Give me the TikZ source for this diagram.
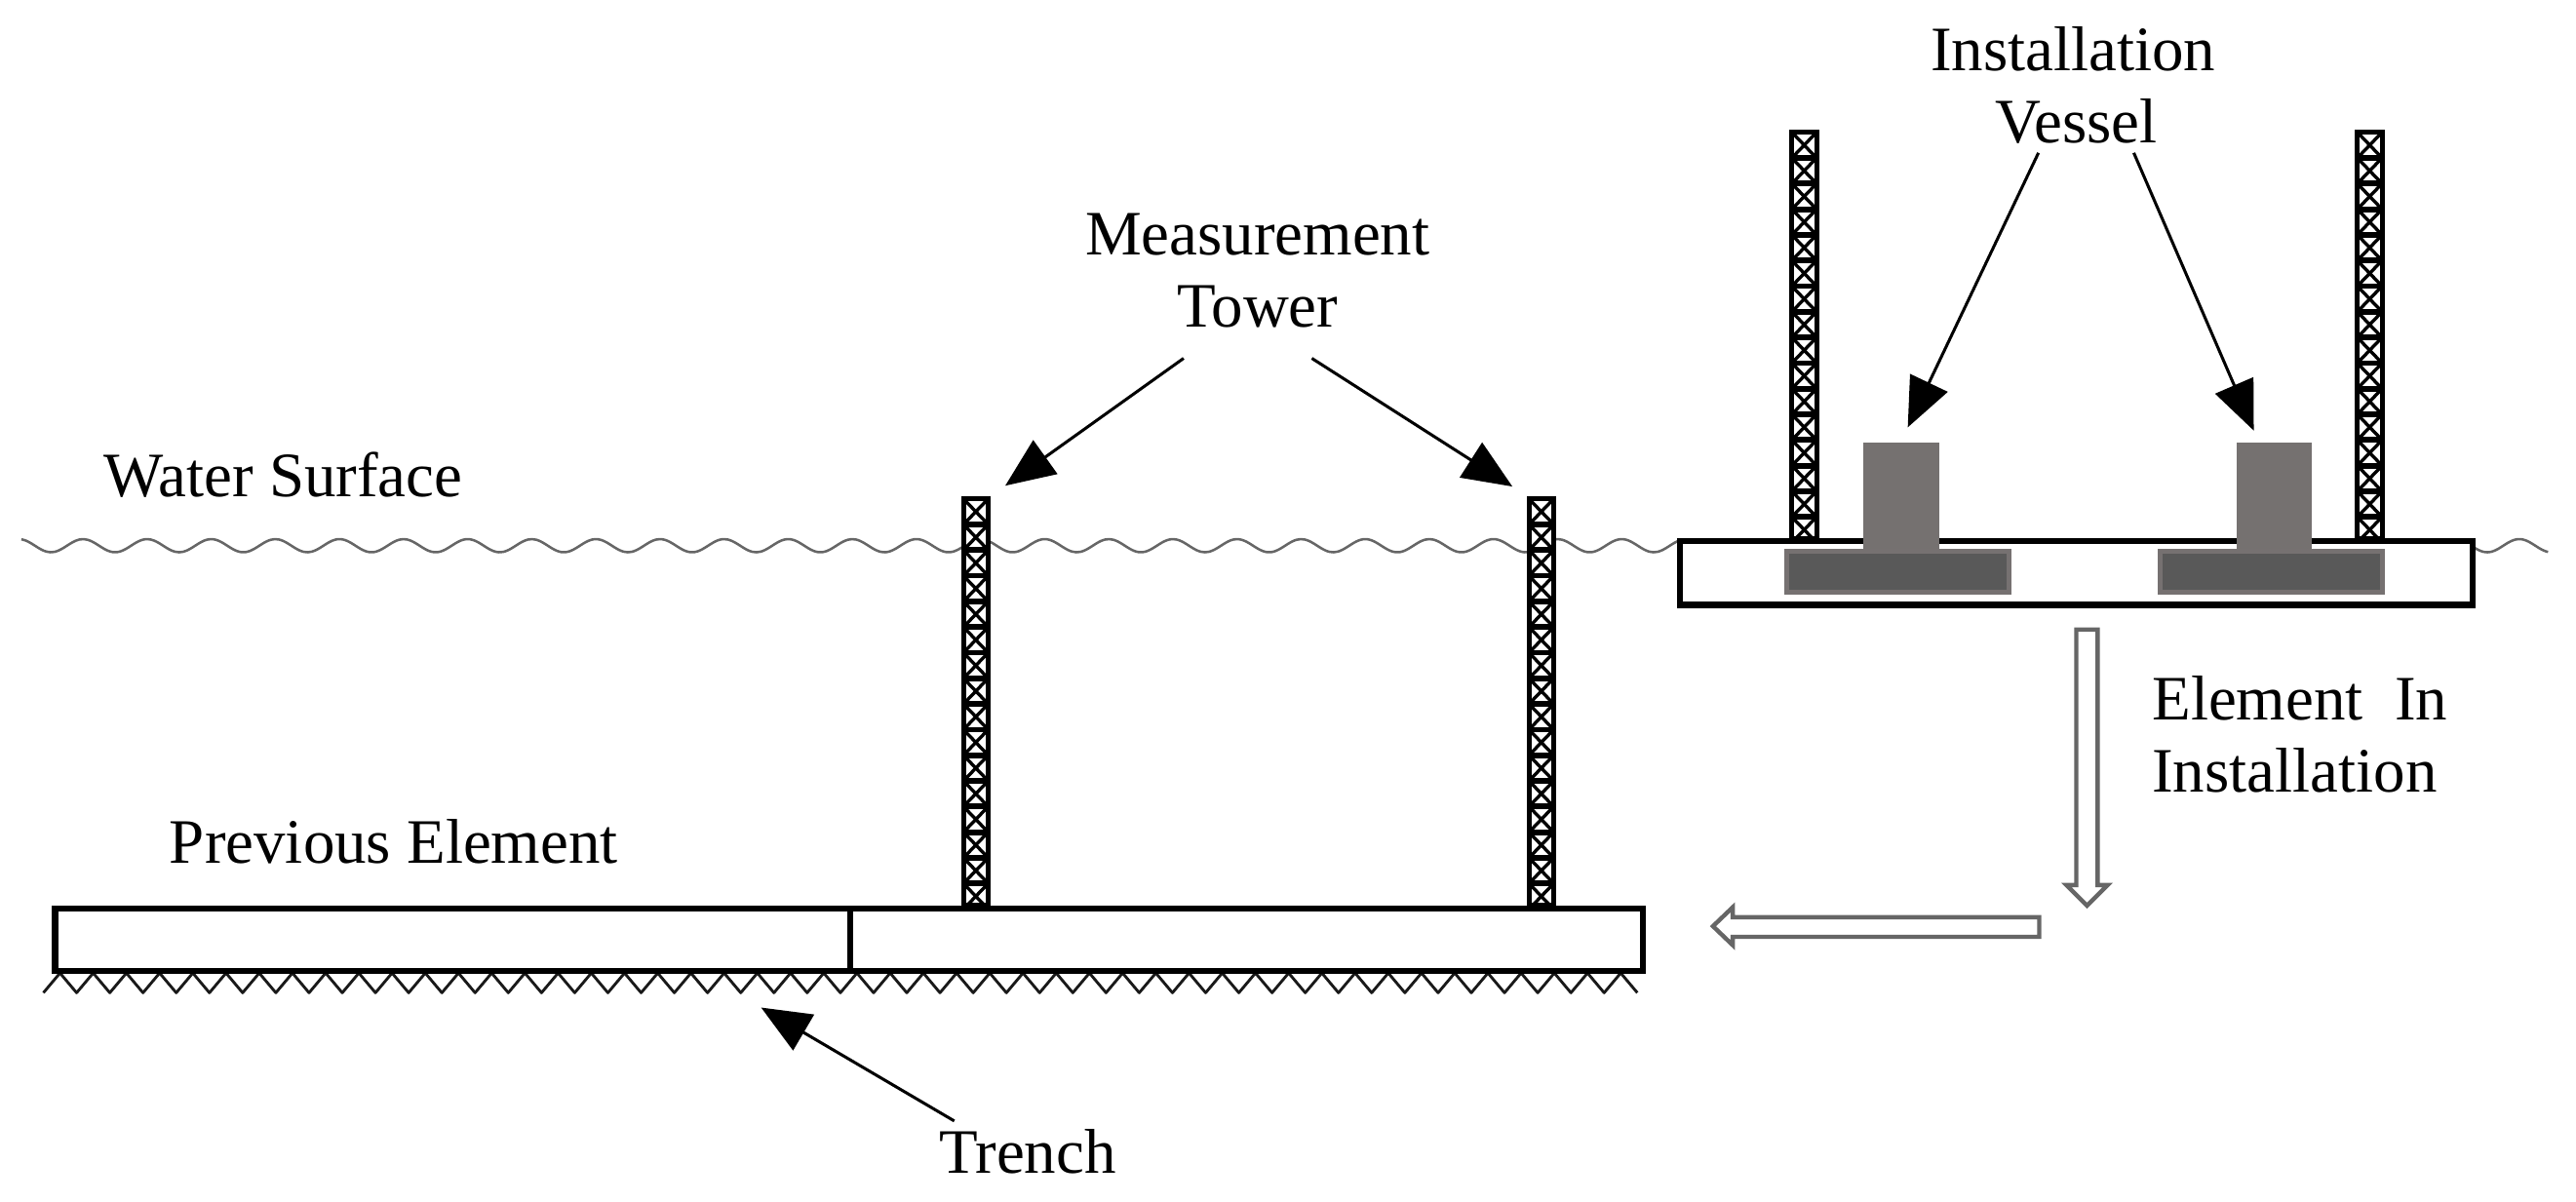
\documentclass[tikz,border=0pt]{standalone}
\usepackage{fontspec}
\setmainfont{Liberation Serif}
\usetikzlibrary{arrows.meta}
\definecolor{colgray}{HTML}{757170}
\definecolor{basegray}{HTML}{595959}
\definecolor{edgegray}{HTML}{767171}
\definecolor{wavegray}{HTML}{666666}
\tikzset{
  label text/.style={font=\fontsize{38.5}{44}\selectfont, anchor=base, inner sep=0pt, text=black},
  callout/.style={line width=1.8pt, -{Triangle[length=30pt,width=25pt]}, shorten >=0pt},
  slab/.style={draw=black, line width=3.6pt, fill=white},
  column/.style={fill=colgray, draw=none},
  footing/.style={fill=basegray, draw=edgegray, line width=3pt},
  wave/.style={draw=wavegray, line width=1.5pt},
  hollow/.style={draw=wavegray, line width=2.6pt, fill=white, line join=miter},
  towerframe/.style={draw=black, line width=3pt, fill=white},
  towerbar/.style={draw=black, line width=3.4pt},
  towerx/.style={draw=black, line width=2pt},
  ground/.style={draw=black!90, line width=1.7pt, line join=round}
}
\newcommand{\drawtower}[2]{%
  \draw[towerframe] (#1+1.5,#2+1.5) rectangle (#1+16.5,#2+249);
  \foreach \i in {0,...,15}{%
    \pgfmathsetmacro{\ya}{#2+1.5+\i*15.6}%
    \pgfmathsetmacro{\yb}{\ya+15.6}%
    \draw[towerbar] (#1+1.5,\yb) -- (#1+16.5,\yb);
    \draw[towerx] (#1+1.5,\ya) -- (#1+16.5,\yb) (#1+16.5,\ya) -- (#1+1.5,\yb);
  }%
}
\begin{document}
\begin{tikzpicture}[x=1pt,y=-1pt]
\useasboundingbox (0,0) rectangle (1567,731.3);
% water surface
\draw[wave] plot[domain=13:1021,samples=400,smooth] (\x,{332-4*cos((\x-557.5)/39*360)});
\draw[wave] plot[domain=1505:1550,samples=40,smooth] (\x,{332-4*cos((\x-557.5)/39*360)});
% ground
\draw[ground] (26.4,604)
  \foreach \k in {0,...,47}{ -- ({36.5+20.2*\k},592) -- ({46.6+20.2*\k},604) };
% previous elements
\draw[slab] (33.5,552.5) rectangle (999.5,590.5);
\draw[black, line width=3.6pt] (517,552.5) -- (517,590.5);
% measurement towers
\drawtower{584.6}{302}
\drawtower{928.6}{302}
% vessel
\drawtower{1088.5}{79}
\drawtower{1432.5}{79}
\draw[slab] (1022,329) rectangle (1504,368);
\fill[column] (1133.5,269) rectangle (1179.5,336);
\fill[column] (1360.5,269) rectangle (1406.5,336);
\draw[footing] (1087,335.5) rectangle (1222,360.5);
\draw[footing] (1314,335.5) rectangle (1449,360.5);
% hollow arrows
\draw[hollow] (1263,383) -- (1276,383) -- (1276,538.5) -- (1282,538.5) -- (1269.5,551) -- (1257,538.5) -- (1263,538.5) -- cycle;
\draw[hollow] (1240.5,558) -- (1240.5,570) -- (1054,570) -- (1054,575) -- (1042,563.5) -- (1054,552) -- (1054,558) -- cycle;
% labels
\node[label text] (install) at (1261,43) {Installation};
\node[label text] (vessel) at (1263,87) {Vessel};
\node[label text] (measure) at (765,155) {Measurement};
\node[label text] (tower) at (765,199) {Tower};
\node[label text, anchor=base west] (water) at (63,302) {Water Surface};
\node[label text, anchor=base west] (previous) at (103,525) {Previous Element};
\node[label text, anchor=base west] (element) at (1309,438) {Element\ \ In};
\node[label text, anchor=base west] (installation) at (1309,482) {Installation};
\node[label text] (trench) at (625,714) {Trench};
% callouts
\coordinate (c1a) at (1240,93);  \coordinate (c1b) at (1160.5,260);
\coordinate (c2a) at (1298,93);  \coordinate (c2b) at (1371,262);
\coordinate (c3a) at (720,218);  \coordinate (c3b) at (611.5,295.5);
\coordinate (c4a) at (798,218);  \coordinate (c4b) at (920,296);
\coordinate (c5a) at (580.5,682); \coordinate (c5b) at (463,613);
\draw[callout] (c1a) -- (c1b);
\draw[callout] (c2a) -- (c2b);
\draw[callout] (c3a) -- (c3b);
\draw[callout] (c4a) -- (c4b);
\draw[callout] (c5a) -- (c5b);
\end{tikzpicture}
\end{document}
